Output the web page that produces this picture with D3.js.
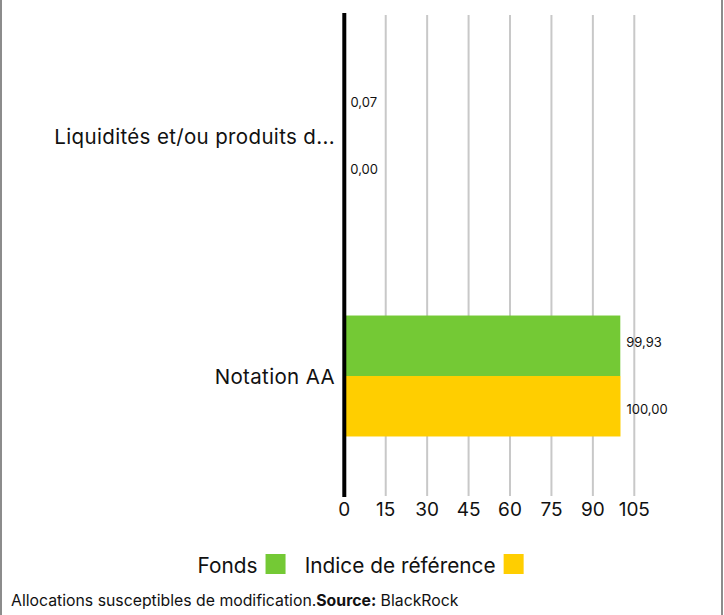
<!DOCTYPE html>
<html>
<head>
<meta charset="utf-8">
<script src="https://cdn.jsdelivr.net/npm/d3@7"></script>
<style>
  body { margin: 0; background: #fff; }
  svg { display: block; font-family: Inter, "Noto Sans", sans-serif; }
</style>
</head>
<body>
<div id="chart"></div>
<script>
// data
var categories = ["Liquidités et/ou produits d...", "Notation AA"];
var seriesNames = ["Fonds", "Indice de référence"];
var fondsValues = [0.07, 99.93];
var indiceValues = [0.00, 100.00];
var tickValues = [0, 15, 30, 45, 60, 75, 90, 105];
var seriesColors = ["#74c935", "#ffce00"];

var width = 724, height = 615;
var fr = d3.formatLocale({decimal: ",", thousands: " ", grouping: [3], currency: ["", " €"]});
var fmt = fr.format(".2f");

var svg = d3.select("#chart").append("svg")
	.attr("width", width)
	.attr("height", height);

// frame (only the side borders are visible)
svg.append("line").attr("x1", 1).attr("x2", 1).attr("y1", 0).attr("y2", height)
	.attr("stroke", "#8c8c8c").attr("stroke-width", 2);
svg.append("line").attr("x1", 722).attr("x2", 722).attr("y1", 0).attr("y2", height)
	.attr("stroke", "#8c8c8c").attr("stroke-width", 2);

var x = d3.scaleLinear()
	.domain([0, 105])
	.range([344.3, 634.3]);

var y0 = d3.scaleBand()
	.domain(categories)
	.range([16, 496])
	.paddingInner(0.496)
	.paddingOuter(0.248);

var y1 = d3.scaleBand()
	.domain(seriesNames)
	.range([0, y0.bandwidth()]);

var rows = categories.map(function(c, i) {
	return {cat: c, values: [fondsValues[i], indiceValues[i]]};
});

// gridlines
svg.append("g")
	.selectAll("line")
	.data(tickValues.slice(1))
	.enter().append("line")
	.attr("x1", function(d) { return x(d); })
	.attr("x2", function(d) { return x(d); })
	.attr("y1", 15)
	.attr("y2", 496)
	.attr("stroke", "#c8c8c8")
	.attr("stroke-width", 2);

// bars
var groups = svg.selectAll(".grp")
	.data(rows)
	.enter().append("g")
	.attr("class", "grp")
	.attr("transform", function(d) { return "translate(0," + y0(d.cat) + ")"; });

groups.selectAll("rect")
	.data(function(d) { return d.values; })
	.enter().append("rect")
	.attr("x", x(0))
	.attr("y", function(d, i) { return y1(seriesNames[i]); })
	.attr("width", function(d) { return x(d) - x(0); })
	.attr("height", y1.bandwidth())
	.attr("fill", function(d, i) { return seriesColors[i]; });

// value labels, spread a bit away from the group centre
groups.selectAll("text.val")
	.data(function(d) { return d.values; })
	.enter().append("text")
	.attr("class", "val")
	.attr("x", function(d) { return x(d) + 6; })
	.attr("y", function(d, i) {
		var c = y0.bandwidth() / 2;
		return c + (y1(seriesNames[i]) + y1.bandwidth() / 2 - c) * 1.1;
	})
	.attr("dy", "0.36em")
	.style("font-size", "13px")
	.attr("fill", "#111")
	.text(function(d) { return fmt(d); });

// category labels
svg.append("g")
	.selectAll("text")
	.data(categories)
	.enter().append("text")
	.attr("x", 335)
	.attr("y", function(d) { return y0(d) + y0.bandwidth() / 2; })
	.attr("dy", "0.37em")
	.attr("text-anchor", "end")
	.style("font-size", "20.5px")
	.style("letter-spacing", "0.35px")
	.attr("fill", "#111")
	.text(function(d) { return d; });

// y axis line
svg.append("line")
	.attr("x1", x(0)).attr("x2", x(0))
	.attr("y1", 13).attr("y2", 497)
	.attr("stroke", "#000")
	.attr("stroke-width", 4);

// x tick labels
svg.append("g")
	.selectAll("text")
	.data(tickValues)
	.enter().append("text")
	.attr("x", function(d) { return x(d); })
	.attr("y", 515.5)
	.attr("text-anchor", "middle")
	.style("font-size", "19px")
	.attr("fill", "#111")
	.text(function(d) { return d; });

// legend
var legX = [197.6, 304.7];
var legendItems = svg.append("g").selectAll("g")
	.data(seriesNames)
	.enter().append("g");

legendItems.append("text")
	.attr("x", function(d, i) { return legX[i]; })
	.attr("y", 572.7)
	.style("font-size", "20.8px")
	.attr("fill", "#111")
	.text(function(d) { return d; })
	.each(function(d, i) {
		var w = this.getComputedTextLength();
		d3.select(this.parentNode).append("rect")
			.attr("x", legX[i] + w + 8)
			.attr("y", 554)
			.attr("width", 20)
			.attr("height", 20)
			.attr("fill", seriesColors[i]);
	});

// footer
var foot = svg.append("text")
	.attr("x", 11)
	.attr("y", 606)
	.style("font-size", "15.8px")
	.attr("fill", "#111");
foot.append("tspan").text("Allocations susceptibles de modification.");
foot.append("tspan").attr("font-weight", "bold").text("Source:");
foot.append("tspan").text(" BlackRock");
</script>
</body>
</html>
